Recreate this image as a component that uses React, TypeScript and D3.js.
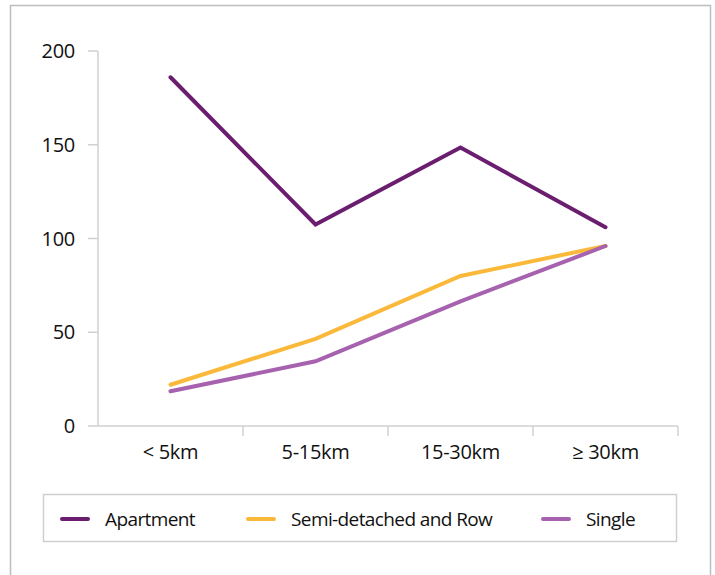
import React from "react";
import * as d3 from "d3";

const categories = ["< 5km", "5-15km", "15-30km", "≥ 30km"];
const apartment = [186, 107.5, 148.5, 106];
const semiDetached = [22, 46.5, 80, 96];
const single = [18.5, 34.5, 66.5, 96];
const yTicks = [0, 50, 100, 150, 200];

const seriesNames = ["Apartment", "Semi-detached and Row", "Single"];
const seriesColors = ["#6b1d6f", "#fbb93b", "#a662ae"];

export default function App() {
  const W = 715;
  const H = 575;
  const x = d3.scaleBand<string>().domain(categories).range([98, 678]);
  const y = d3.scaleLinear().domain([0, 200]).range([426, 51]);
  const font = "'Open Sans', 'Noto Sans', sans-serif";
  const line = d3
    .line<number>()
    .x((_, i) => (x(categories[i]) as number) + x.bandwidth() / 2)
    .y((d) => y(d));
  const data = [apartment, semiDetached, single];
  const legendX = [62, 248, 543];

  return (
    <svg
      width={W}
      height={H}
      style={{ position: "absolute", left: 0, top: 0 }}
      fontFamily={font}
    >
      <rect x={0} y={0} width={W} height={H} fill="#fff" />
      <rect x={10.5} y={5.5} width={700} height={620} fill="none" stroke="#bdbdbd" strokeWidth={1.5} />
      {/* y axis */}
      <line x1={98} x2={98} y1={y(200)} y2={y(0)} stroke="#d0d0d0" strokeWidth={1.5} />
      {yTicks.map((t) => (
        <g key={t}>
          <line x1={88} x2={98} y1={y(t)} y2={y(t)} stroke="#d0d0d0" strokeWidth={1.5} />
          <text x={75} y={y(t)} dy="0.35em" textAnchor="end" fontSize={20} letterSpacing={-0.3} fill="#111">
            {t}
          </text>
        </g>
      ))}
      {/* x axis */}
      <line x1={98} x2={678} y1={y(0)} y2={y(0)} stroke="#d0d0d0" strokeWidth={1.5} />
      {categories.map((c) => (
        <g key={c}>
          <line
            x1={(x(c) as number) + x.bandwidth()}
            x2={(x(c) as number) + x.bandwidth()}
            y1={y(0)}
            y2={y(0) + 10}
            stroke="#d0d0d0"
            strokeWidth={1.5}
          />
          <text
            x={(x(c) as number) + x.bandwidth() / 2}
            y={452}
            dy="0.35em"
            textAnchor="middle"
            fontSize={20}
            letterSpacing={-0.3}
            fill="#111"
          >
            {c}
          </text>
        </g>
      ))}
      {/* lines */}
      {data.map((d, i) => (
        <path
          key={i}
          d={line(d) as string}
          fill="none"
          stroke={seriesColors[i]}
          strokeWidth={4}
          strokeLinecap="round"
          strokeLinejoin="miter"
        />
      ))}
      {/* legend */}
      <rect x={43.5} y={494.5} width={633} height={47} fill="none" stroke="#cfcfcf" strokeWidth={1.5} />
      {seriesNames.map((n, i) => (
        <g key={n}>
          <line
            x1={legendX[i]}
            x2={legendX[i] + 26}
            y1={519}
            y2={519}
            stroke={seriesColors[i]}
            strokeWidth={4}
            strokeLinecap="round"
          />
          <text x={legendX[i] + 43} y={519} dy="0.35em" fontSize={19} letterSpacing={-0.6} fill="#111">
            {n}
          </text>
        </g>
      ))}
    </svg>
  );
}
